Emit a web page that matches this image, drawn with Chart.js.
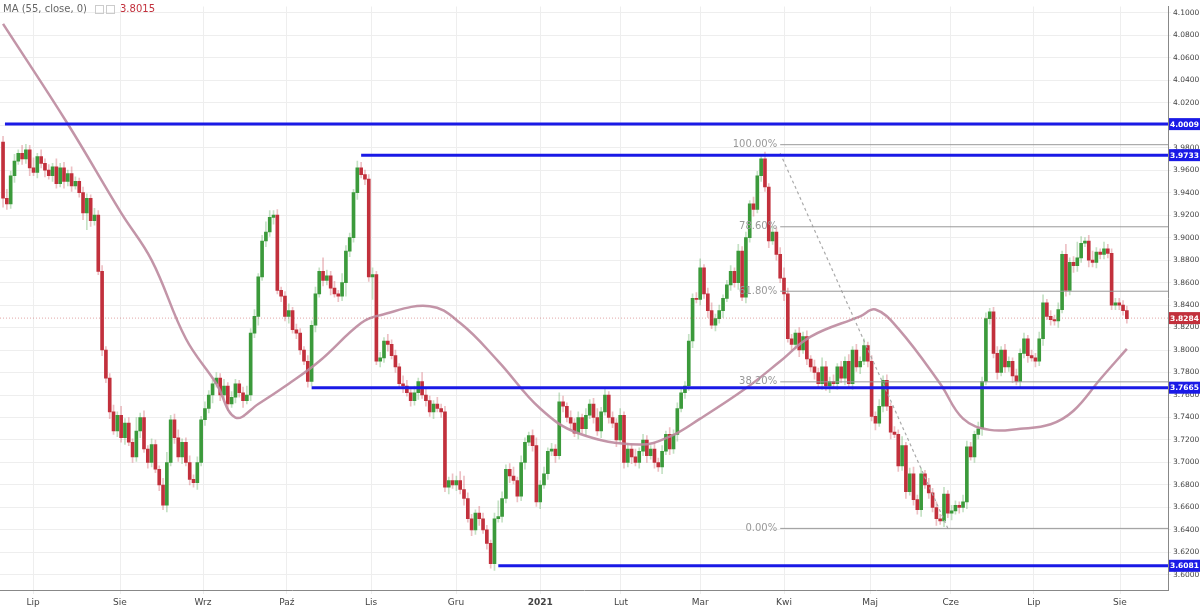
<!DOCTYPE html>
<html><head><meta charset="utf-8">
<script src="https://cdn.jsdelivr.net/npm/chart.js@4.4.0/dist/chart.umd.min.js"></script>
<style>html,body{margin:0;padding:0;background:#fff;}#w{width:1200px;height:608px;position:relative}</style>
</head><body><div id="w"><canvas id="c"></canvas></div>
<script>
const firstOpen = 3.985;
const closes = [
3.935,3.930,3.955,3.968,3.975,3.970,3.978,3.962,3.958,3.972,3.966,3.960,3.955,3.963,3.948,3.962,3.950,3.957,3.946,3.950,
3.940,3.922,3.935,3.915,3.920,3.870,3.800,3.775,3.745,3.728,3.742,3.722,3.735,3.718,3.705,3.728,3.740,3.712,3.700,3.716,3.694,
3.680,3.662,3.700,3.738,3.722,3.705,3.718,3.700,3.685,3.682,3.700,3.738,3.748,3.760,3.770,3.775,3.760,3.768,3.752,3.758,
3.770,3.762,3.755,3.760,3.815,3.830,3.865,3.897,3.905,3.918,3.920,3.853,3.848,3.830,3.835,3.818,3.815,3.800,3.790,
3.772,3.822,3.850,3.870,3.862,3.866,3.855,3.850,3.848,3.860,3.888,3.900,3.940,3.962,3.956,3.952,3.865,3.867,3.790,3.793,
3.808,3.805,3.795,3.785,3.770,3.768,3.762,3.755,3.762,3.772,3.760,3.755,3.745,3.752,3.748,3.745,3.678,3.684,3.680,3.684,
3.676,3.668,3.650,3.640,3.655,3.650,3.640,3.628,3.610,3.650,3.652,3.668,3.694,3.688,3.684,3.670,3.700,3.718,3.724,3.715,
3.665,3.680,3.690,3.710,3.712,3.706,3.754,3.750,3.740,3.735,3.726,3.740,3.730,3.742,3.752,3.740,3.728,3.745,3.760,3.740,
3.735,3.720,3.742,3.700,3.712,3.705,3.700,3.710,3.720,3.706,3.712,3.700,3.696,3.710,3.725,3.712,3.725,3.748,3.762,3.768,
3.808,3.846,3.845,3.873,3.850,3.835,3.822,3.828,3.835,3.846,3.858,3.870,3.860,3.888,3.847,3.900,3.930,3.925,3.955,3.970,
3.945,3.897,3.905,3.885,3.864,3.850,3.810,3.805,3.815,3.800,3.812,3.792,3.785,3.780,3.770,3.785,3.768,3.772,3.770,3.785,
3.775,3.790,3.770,3.800,3.785,3.790,3.804,3.790,3.741,3.735,3.750,3.773,3.750,3.727,3.725,3.697,3.715,3.674,3.690,3.667,
3.658,3.690,3.680,3.673,3.660,3.650,3.648,3.672,3.655,3.657,3.662,3.660,3.665,3.714,3.705,3.725,3.730,3.772,3.828,3.834,
3.797,3.780,3.800,3.785,3.790,3.777,3.772,3.797,3.810,3.795,3.793,3.790,3.810,3.842,3.830,3.827,3.826,3.836,3.885,3.853,
3.878,3.875,3.882,3.895,3.897,3.880,3.878,3.887,3.885,3.890,3.886,3.840,3.842,3.840,3.835,3.828];
// wick extensions in thousandths above body / below body
const wickUp = [
5,8,4,6,3,7,5,4,9,3,6,4,5,3,7,4,5,3,6,4, 3,5,4,3,6,4,5,3,4,6,3,8,4,5,3,12,4,6,3,5, 4,3,6,9,4,5,7,3,4,6, 4,5,3,6,4,3,5,4,6,3,
5,4,3,5,8,4,6,3,5,9, 6,4,5,3,4,6,3,5,4,3, 5,4,6,3,12,5,4,6,3,8, 5,4,3,6,5,4,4,6,3,5, 3,6,4,5,3,7,5,4,6,3,
8,5,4,3,6,4,5,3,6,4, 8,12,5,4,3,6,5,4,3,5, 14,6,4,5,8,3,6,4,3,5, 7,4,6,3,5,4,8,5,3,6, 4,5,3,6,4,5,8,4,6,3,
5,4,6,3,5,4,7,3,5,4, 3,6,4,5,3,6,4,5,3,4, 6,4,5,8,3,5,7,4,5,3, 4,5,3,6,4,5,3,6,4,2, 6,3,5,4,6,9,5,4,3,5,
4,5,3,6,4,8,5,4,6,3, 5,4,6,3,5,4,6,3,5,4, 6,4,5,3,5,4,8,3,5,6, 4,5,3,6,4,5,4,6,3,5, 4,3,6,5,4,3,6,4,5,3,
4,6,3,5,4,3,6,4,5,3, 5,4,6,7,3,5,4,6,3,9, 4,5,14,6,3,5,8,4,3,6];
const wickDn = [
8,5,4,6,3,5,4,7,3,5, 4,6,3,5,4,3,6,4,5,3, 4,6,15,5,4,3,5,4,6,3, 5,4,6,3,5,4,6,3,5,4, 3,5,4,6,3,5,4,6,3,5,
4,6,3,5,4,7,3,5,4,6, 3,5,4,6,3,5,4,8,3,5, 4,6,3,5,4,6,3,5,4,3, 5,4,6,3,5,4,6,3,5,4, 12,5,4,6,3,5,4,20,3,5,
4,6,3,5,4,6,3,5,4,6, 3,5,4,6,3,5,4,6,3,5, 4,6,3,5,4,6,3,5,4,6, 3,5,4,6,3,5,4,6,3,5, 4,6,3,5,4,6,3,5,4,6,
3,5,4,6,3,5,4,6,3,5, 4,6,3,5,4,6,3,5,4,6, 3,5,4,6,3,5,4,6,3,5, 4,6,3,5,4,6,3,5,4,6, 3,5,4,6,3,5,4,6,3,5,
4,6,3,5,4,6,3,5,4,6, 3,5,4,6,3,5,4,6,3,5, 4,6,3,5,4,6,3,5,4,6, 3,5,4,6,3,5,4,6,3,5, 4,6,3,5,4,6,3,5,4,6,
3,5,4,6,3,5,4,6,3,5, 4,6,3,5,4,6,3,5,4,6, 3,5,4,6,3,5,4,6,3,5,4,6,5,4,3,6,4,5];
const maIdx = [0,17,31,39,48,56,61,67,75,83,94,99,112,120,130,141,151,167,175,183,195,204,212,225,229,235,246,252,259,267,275,281,288,295];
const maVal = [4.090,4.001,3.922,3.880,3.810,3.770,3.740,3.752,3.770,3.790,3.824,3.831,3.839,3.824,3.790,3.748,3.726,3.716,3.723,3.739,3.766,3.790,3.812,3.830,3.836,3.819,3.770,3.739,3.729,3.730,3.734,3.746,3.774,3.801];
const monthLabels = ['Lip','Sie','Wrz','Paź','Lis','Gru','2021','Lut','Mar','Kwi','Maj','Cze','Lip','Sie'];
const monthIdx = [7.9,30.7,52.5,74.5,96.6,118.9,141,162.2,183,205,227.6,248.8,270.6,293.2];
const levels = [4.0009,3.9733,3.7665,3.6081];
const levelStart = [0.5,94,81,130];
const fibPct = ['100.00%','78.60%','61.80%','38.20%','0.00%'];
const fibVal = [3.9826,3.9096,3.8523,3.7717,3.6414];
const lastPrice = 3.8284;
const maLast = 3.8015;

const XMIN=-0.8, XMAX=305.8;
const GREEN='#3b9a3b', RED='#c2303c';
const bodies=[], wicks=[], bCol=[], wCol=[];
let prev = firstOpen;
closes.forEach((c,i)=>{
  const o=prev, up=c>=o;
  const wu=(wickUp[i]??4)/1000, wd=(wickDn[i]??4)/1000;
  bodies.push({x:i,y:[o,c===o?c+0.0005:c]});
  wicks.push({x:i,y:[Math.min(o,c)-wd, Math.max(o,c)+wu]});
  bCol.push(up?GREEN:RED); wCol.push(up?'rgba(59,154,59,0.3)':'rgba(194,48,60,0.3)');
  prev=c;
});
const datasets=[
 {type:'bar',data:wicks,backgroundColor:wCol,barThickness:1,grouped:false,order:5},
 {type:'bar',data:bodies,backgroundColor:bCol,barThickness:3,grouped:false,order:4},
 {type:'line',data:maIdx.map((x,i)=>({x,y:maVal[i]})),borderColor:'rgba(188,138,158,0.9)',borderWidth:2.5,pointRadius:0,tension:0.4,order:3}
];
levels.forEach((v,i)=>datasets.push({type:'line',data:[{x:levelStart[i],y:v},{x:XMAX,y:v}],borderColor:'#1a1ae6',borderWidth:3,pointRadius:0,order:1}));
fibVal.forEach(v=>datasets.push({type:'line',data:[{x:204,y:v},{x:XMAX,y:v}],borderColor:'#999',borderWidth:1,pointRadius:0,order:2}));
datasets.push({type:'line',data:[{x:204,y:3.975},{x:248,y:3.6414}],borderColor:'#aaa',borderWidth:1.2,borderDash:[3,3],pointRadius:0,order:2});
datasets.push({type:'line',data:[{x:XMIN,y:lastPrice},{x:XMAX,y:lastPrice}],borderColor:'rgba(200,80,80,0.5)',borderWidth:1,borderDash:[1,2],pointRadius:0,order:2});

const annot={id:'annot',afterDraw(ch){
  const g=ch.ctx,xs=ch.scales.x,ys=ch.scales.y;
  g.save();
  g.font='10px "DejaVu Sans"';g.fillStyle='#999';g.textAlign='right';g.textBaseline='middle';
  fibVal.forEach((v,i)=>g.fillText(fibPct[i],xs.getPixelForValue(204)-3,ys.getPixelForValue(v)));
  const box=(v,col)=>{const y=ys.getPixelForValue(v);g.fillStyle=col;g.fillRect(1169,y-6,31,12);
    g.fillStyle='#fff';g.font='bold 7.5px "DejaVu Sans"';g.textAlign='center';g.fillText(v.toFixed(4),1184.5,y+0.5);};
  levels.forEach(v=>box(v,'#1a1ae6'));
  box(lastPrice,'#c2303c');
  g.textAlign='left';g.textBaseline='top';g.font='10px "DejaVu Sans"';g.fillStyle='#666';
  g.fillText('MA (55, close, 0)',3,4);
  g.strokeStyle='#ccc';g.strokeRect(95.5,5.5,8,8);g.strokeRect(106.5,5.5,8,8);
  g.fillStyle='#c2303c';g.fillText(maLast.toFixed(4),120,4);
  g.restore();
}};
new Chart(document.getElementById('c'),{
 data:{datasets},
 options:{responsive:true,maintainAspectRatio:false,animation:false,
  layout:{padding:0},
  plugins:{legend:{display:false},tooltip:{enabled:false}},
  scales:{
   x:{type:'linear',min:XMIN,max:XMAX,offset:false,
      afterBuildTicks:s=>{s.ticks=monthIdx.map(v=>({value:v}));},
      ticks:{autoSkip:false,maxRotation:0,color:'#444',font:(c)=>({size:9,family:'DejaVu Sans',weight:c.index===6?'bold':'normal'}),
        callback:(v,i)=>monthLabels[i]},
      grid:{color:'#eeeeee',tickLength:4,offset:false},border:{color:'#888'},
      afterFit:s=>{s.height=18;}},
   y:{position:'right',min:3.5866,max:4.1055,
      afterBuildTicks:s=>{const t=[];for(let k=0;k<=25;k++)t.push({value:3.6+k*0.02});s.ticks=t;},
      ticks:{color:'#444',font:{size:7.5,family:'DejaVu Sans'},callback:v=>v.toFixed(4),padding:2},
      grid:{color:'#eeeeee',tickLength:3},border:{color:'#888'},
      afterFit:s=>{s.width=32;}}
  }},
 plugins:[annot]
});
</script></body></html>
